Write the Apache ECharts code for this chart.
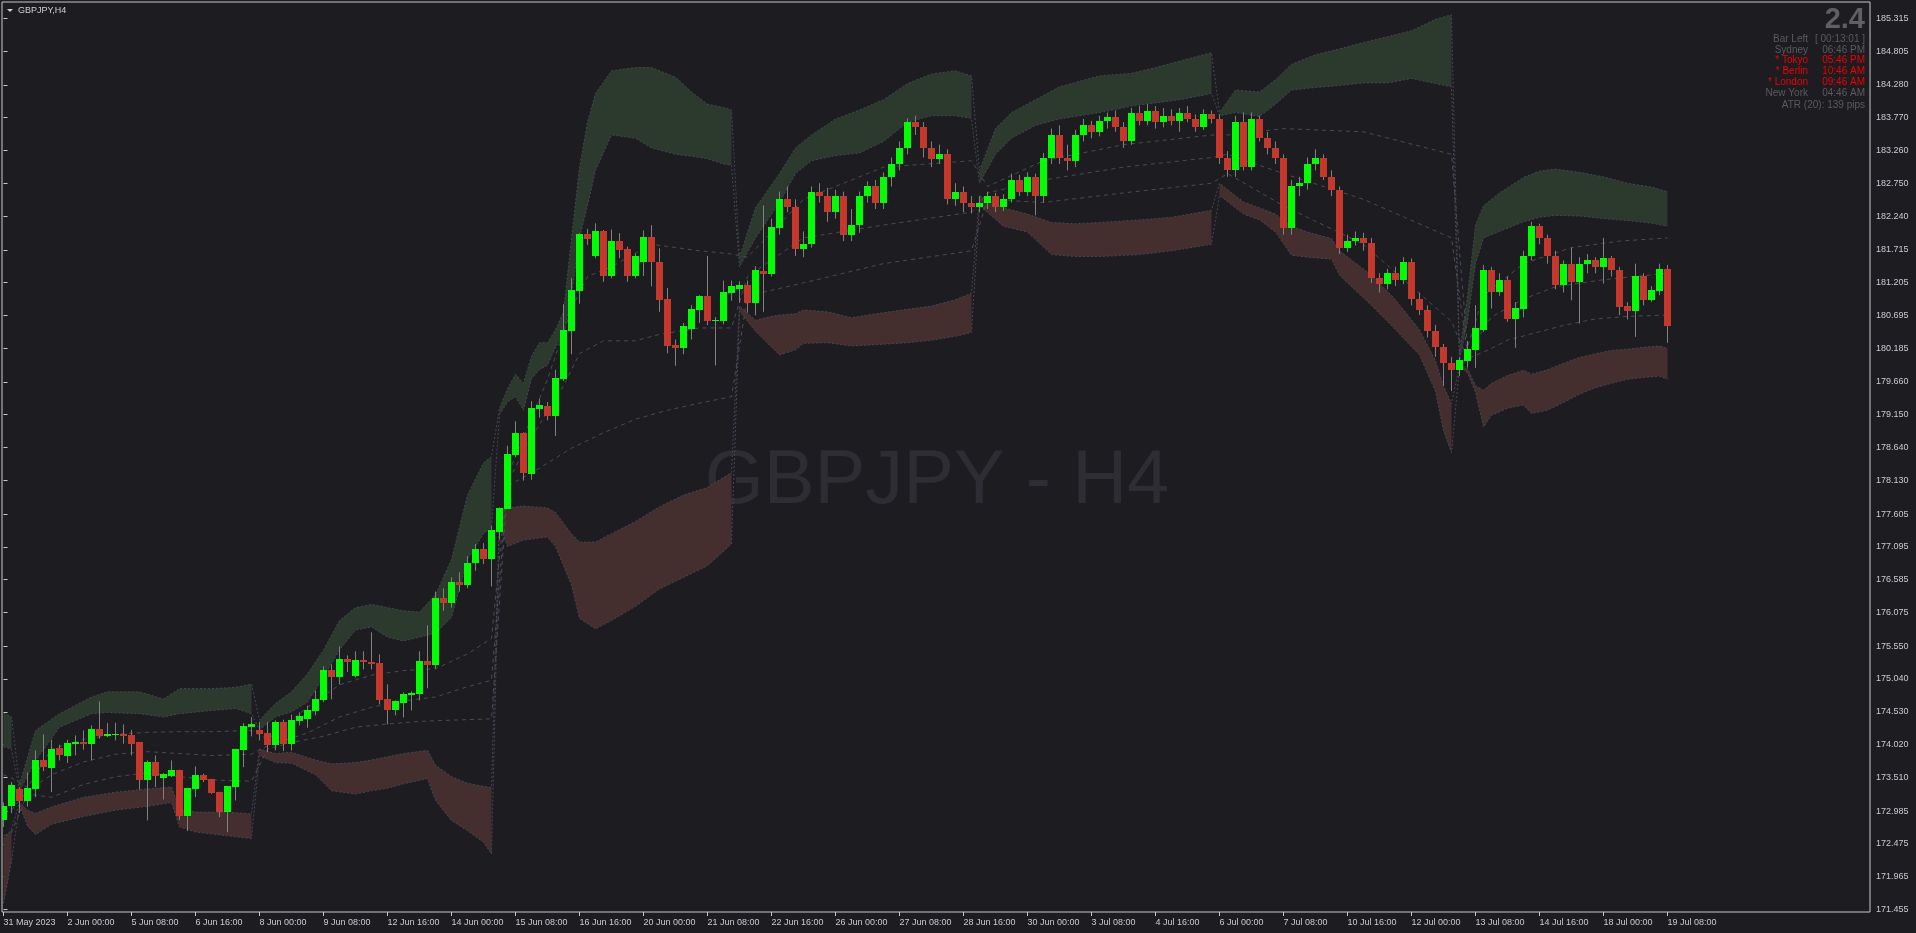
<!DOCTYPE html>
<html>
<head>
<meta charset="utf-8">
<title>GBPJPY,H4</title>
<script src="https://cdn.jsdelivr.net/npm/echarts@6/dist/echarts.min.js"></script>
<style>
html, body { margin: 0; padding: 0; background: #1c1c21; }
#chart { width: 1916px; height: 933px; }
</style>
</head>
<body>
<div id="chart"></div>
<script>
// time labels, one every 8 H4 bars (bar 0 = 31 May 16:00)
const timeLabels = ['31 May 2023', '2 Jun 00:00', '5 Jun 08:00', '6 Jun 16:00', '8 Jun 00:00', '9 Jun 08:00',
  '12 Jun 16:00', '14 Jun 00:00', '15 Jun 08:00', '16 Jun 16:00', '20 Jun 00:00', '21 Jun 08:00', '22 Jun 16:00',
  '26 Jun 00:00', '27 Jun 08:00', '28 Jun 16:00', '30 Jun 00:00', '3 Jul 08:00', '4 Jul 16:00', '6 Jul 00:00',
  '7 Jul 08:00', '10 Jul 16:00', '12 Jul 00:00', '13 Jul 08:00', '14 Jul 16:00', '18 Jul 00:00', '19 Jul 08:00']
const labelBars = timeLabels.map((t, k) => k * 8)

// price scale labels
const yTicks = [185.315, 184.805, 184.280, 183.770, 183.260, 182.750, 182.240, 181.715, 181.205, 180.695,
  180.185, 179.660, 179.150, 178.640, 178.130, 177.605, 177.095, 176.585, 176.075, 175.550, 175.040,
  174.530, 174.020, 173.510, 172.985, 172.475, 171.965, 171.455]

// candles: [open, close, low, high]
const candles = [
  [172.84, 173.07, 172.74, 173.12], [173.057, 173.384, 172.954, 173.436], [173.322, 173.14, 172.954, 173.358],
  [173.14, 173.343, 173.057, 173.586], [173.327, 173.773, 173.203, 173.929], [173.773, 173.669, 173.607, 174.178],
  [173.654, 173.944, 173.28, 174.095], [173.96, 173.856, 173.773, 174.017], [173.84, 174.038, 173.732, 174.095],
  [174.027, 174.058, 173.851, 174.162], [174.058, 174.027, 173.94, 174.24], [174.027, 174.256, 173.773, 174.318],
  [174.256, 174.152, 174.11, 174.691], [174.152, 174.178, 174.136, 174.354], [174.162, 174.178, 174.084, 174.359],
  [174.178, 174.152, 174.033, 174.333], [174.162, 174.022, 173.851, 174.25], [174.053, 173.462, 173.317, 174.053],
  [173.462, 173.742, 172.84, 173.773], [173.742, 173.524, 173.358, 173.851], [173.493, 173.56, 173.166, 173.576],
  [173.524, 173.618, 173.514, 173.773], [173.618, 172.902, 172.85, 173.628], [172.902, 173.337, 172.674, 173.348],
  [173.322, 173.55, 173.203, 173.68], [173.55, 173.462, 173.436, 173.566], [173.478, 173.265, 173.254, 173.488],
  [173.275, 172.979, 172.891, 173.286], [172.979, 173.369, 172.658, 173.379], [173.353, 173.944, 173.15, 173.954],
  [173.929, 174.302, 173.669, 174.354], [174.287, 174.333, 174.147, 174.447], [174.24, 174.178, 174.084, 174.37],
  [174.193, 174.007, 173.903, 174.37], [174.007, 174.364, 173.929, 174.396], [174.365, 174.028, 173.919, 174.406],
  [174.028, 174.396, 173.929, 174.484], [174.38, 174.468, 174.318, 174.52], [174.411, 174.551, 174.282, 174.624],
  [174.536, 174.723, 174.474, 174.863], [174.707, 175.174, 174.681, 175.236], [175.174, 175.065, 174.723, 175.267],
  [175.065, 175.345, 174.956, 175.547], [175.345, 175.298, 175.148, 175.407], [175.081, 175.33, 175.06, 175.47],
  [175.33, 175.298, 175.19, 175.47], [175.298, 175.267, 175.19, 175.765], [175.283, 174.707, 174.645, 175.423],
  [174.723, 174.551, 174.334, 174.956], [174.551, 174.691, 174.474, 174.707], [174.66, 174.8, 174.442, 174.832],
  [174.785, 174.816, 174.551, 174.847], [174.8, 175.314, 174.707, 175.47], [175.314, 175.252, 174.894, 175.874],
  [175.25, 176.30, 175.20, 176.40], [176.30, 176.22, 176.10, 176.45], [176.22, 176.55, 176.15, 176.62],
  [176.55, 176.50, 176.40, 176.70], [176.50, 176.85, 176.45, 176.95],
  [176.847, 177.055, 176.722, 177.139], [177.055, 176.91, 176.826, 177.153], [176.91, 177.361, 176.479, 177.417],
  [177.326, 177.695, 177.208, 177.708], [177.681, 178.535, 177.681, 178.667], [178.521, 178.862, 178.493, 179.049],
  [178.862, 178.237, 178.125, 178.876], [178.223, 179.251, 178.139, 179.362], [179.244, 179.3, 179.105, 179.397],
  [179.285, 179.133, 179.063, 179.348], [179.133, 179.716, 178.82, 179.848], [179.702, 180.466, 179.675, 180.869],
  [180.453, 181.085, 180.091, 181.272], [181.071, 181.96, 180.876, 181.974], [181.96, 181.884, 181.793, 182.043],
  [181.62, 182.009, 181.585, 182.127], [182.009, 181.3, 181.217, 182.023], [181.3, 181.849, 181.272, 182.03],
  [181.849, 181.717, 181.585, 181.974], [181.724, 181.3, 181.217, 181.766], [181.3, 181.62, 181.272, 181.654],
  [181.522, 181.911, 181.307, 182.016], [181.911, 181.522, 181.147, 182.099], [181.522, 180.939, 180.751, 181.738],
  [180.946, 180.216, 180.105, 181.12], [180.23, 180.189, 179.911, 180.32], [180.189, 180.529, 180.091, 180.578],
  [180.48, 180.793, 180.32, 180.855], [180.786, 180.994, 180.578, 181.008], [180.994, 180.612, 180.543, 181.62],
  [180.612, 180.626, 179.918, 180.668], [180.612, 181.057, 180.557, 181.237], [181.05, 181.147, 180.925, 181.237],
  [181.106, 181.168, 180.89, 181.224], [181.168, 180.89, 180.737, 181.237], [180.89, 181.397, 180.696, 181.46],
  [181.39, 181.342, 180.751, 182.405],
  [181.34, 182.07, 181.30, 182.20], [182.05, 182.50, 181.95, 182.62], [182.50, 182.38, 182.30, 182.70],
  [182.38, 181.72, 181.62, 182.50], [181.72, 181.80, 181.60, 182.00], [181.80, 182.62, 181.75, 182.70],
  [182.62, 182.55, 182.45, 182.75], [182.55, 182.30, 182.15, 182.68], [182.30, 182.55, 182.20, 182.65],
  [182.55, 181.95, 181.85, 182.62], [181.95, 182.10, 181.85, 182.35], [182.10, 182.55, 181.98, 182.62],
  [182.55, 182.70, 182.45, 182.78], [182.70, 182.45, 182.35, 182.80], [182.45, 182.85, 182.35, 182.92],
  [182.85, 183.05, 182.70, 183.15], [183.05, 183.30, 182.95, 183.40], [183.30, 183.70, 183.20, 183.76],
  [183.70, 183.62, 183.50, 183.80], [183.62, 183.30, 183.15, 183.70], [183.30, 183.12, 183.00, 183.40],
  [183.12, 183.20, 183.05, 183.35], [183.20, 182.50, 182.42, 183.28], [182.50, 182.62, 182.40, 182.75],
  [182.62, 182.45, 182.30, 182.70], [182.45, 182.38, 182.28, 182.55],
  [182.38, 182.45, 182.30, 182.55], [182.45, 182.55, 182.35, 182.62], [182.55, 182.38, 182.30, 182.60],
  [182.38, 182.50, 182.32, 182.58], [182.50, 182.80, 182.45, 182.90], [182.80, 182.62, 182.55, 182.88],
  [182.62, 182.85, 182.55, 182.92], [182.85, 182.55, 182.25, 182.90], [182.55, 183.15, 182.45, 183.22],
  [183.15, 183.50, 183.05, 183.60], [183.50, 183.15, 183.05, 183.65], [183.15, 183.10, 182.95, 183.35],
  [183.10, 183.50, 183.00, 183.58], [183.50, 183.65, 183.40, 183.75], [183.65, 183.55, 183.45, 183.72],
  [183.55, 183.72, 183.48, 183.80], [183.72, 183.78, 183.60, 183.85], [183.78, 183.62, 183.55, 183.88],
  [183.62, 183.40, 183.30, 183.70], [183.40, 183.85, 183.35, 183.92], [183.85, 183.72, 183.65, 183.95],
  [183.72, 183.88, 183.65, 183.98], [183.88, 183.70, 183.60, 183.95], [183.70, 183.80, 183.62, 183.92],
  [183.80, 183.72, 183.65, 183.90], [183.72, 183.85, 183.55, 183.92], [183.85, 183.75, 183.70, 183.95],
  [183.75, 183.62, 183.55, 183.82], [183.62, 183.82, 183.58, 183.90], [183.82, 183.75, 183.68, 183.88],
  [183.75, 183.15, 183.05, 183.82], [183.15, 182.95, 182.85, 183.25], [182.95, 183.70, 182.85, 183.80],
  [183.70, 183.00, 182.95, 183.85], [183.00, 183.75, 182.95, 183.85], [183.75, 183.45, 183.40, 183.80],
  [183.45, 183.30, 183.20, 183.55], [183.30, 183.15, 183.05, 183.40], [183.15, 182.05, 181.95, 183.20],
  [182.05, 182.70, 181.95, 182.80], [182.70, 182.75, 182.55, 182.85], [182.75, 183.05, 182.65, 183.15],
  [183.05, 183.15, 182.95, 183.28], [183.15, 182.85, 182.80, 183.20], [182.85, 182.65, 182.55, 182.95],
  [182.65, 181.75, 181.65, 182.70], [181.75, 181.85, 181.68, 181.95], [181.85, 181.90, 181.78, 182.00],
  [181.90, 181.82, 181.70, 181.98], [181.82, 181.28, 181.20, 181.90], [181.28, 181.18, 181.05, 181.35],
  [181.18, 181.35, 181.10, 181.42], [181.35, 181.25, 181.15, 181.45], [181.25, 181.52, 181.18, 181.60],
  [181.52, 180.95, 180.85, 181.58], [180.95, 180.78, 180.70, 181.05], [180.78, 180.45, 180.35, 180.85],
  [180.45, 180.20, 180.05, 180.55], [180.20, 179.95, 179.60, 180.25], [179.95, 179.85, 179.52, 180.05],
  [179.842, 179.998, 179.75, 180.05], [179.988, 180.17, 179.884, 180.294], [180.154, 180.496, 179.879, 180.854],
  [180.465, 181.40, 180.439, 181.48], [181.40, 181.061, 180.802, 181.45], [181.061, 181.25, 181.00, 181.35],
  [181.25, 180.636, 180.595, 181.30], [180.636, 180.807, 180.19, 180.90], [180.792, 181.62, 180.662, 181.70],
  [181.62, 182.08, 181.55, 182.15], [182.08, 181.90, 181.80, 182.12], [181.90, 181.62, 181.50, 181.95],
  [181.62, 181.17, 181.10, 181.70], [181.165, 181.50, 181.05, 181.55], [181.50, 181.22, 180.93, 181.75],
  [181.22, 181.50, 180.569, 181.60], [181.50, 181.55, 181.35, 181.65], [181.55, 181.45, 181.35, 181.60],
  [181.45, 181.58, 181.19, 181.90], [181.58, 181.40, 181.30, 181.62], [181.40, 180.828, 180.698, 181.45],
  [180.838, 180.766, 180.631, 180.90], [180.766, 181.30, 180.361, 181.50], [181.30, 180.932, 180.85, 181.35],
  [180.932, 181.087, 180.906, 181.15], [181.077, 181.42, 181.01, 181.50], [181.42, 180.534, 180.268, 181.48]
]

// bands restart on these bars
const resetBars = [2, 32, 62, 92, 122, 152, 182]

// upper (green) band: [bar, top, bottom]
const greenBand = [
  [0, 174.51, 173.99], [1, 174.45, 173.95],
  [2, 173.40, 173.30], [4, 174.24, 173.77], [7, 174.50, 174.29], [11, 174.76, 174.50], [13, 174.84, 174.52],
  [17, 174.84, 174.50], [20, 174.73, 174.45], [22, 174.89, 174.50], [26, 174.89, 174.55], [29, 174.91, 174.58],
  [31, 174.96, 174.50],
  [32, 174.40, 174.25], [34, 174.66, 174.45], [36, 174.84, 174.53], [38, 175.12, 174.68], [40, 175.49, 175.07],
  [42, 175.95, 175.49], [44, 176.15, 175.80], [46, 176.20, 175.85], [48, 176.15, 175.69], [50, 176.10, 175.63],
  [52, 176.08, 175.69], [54, 176.35, 175.75], [56, 176.90, 176.00], [58, 177.90, 176.90], [60, 178.40, 177.30],
  [61, 178.50, 177.40],
  [62, 179.25, 179.15], [63, 179.55, 179.35], [64, 179.78, 179.43], [65, 179.64, 179.22], [66, 180.06, 179.71],
  [67, 180.27, 179.85], [68, 180.27, 179.92], [69, 180.47, 180.20], [70, 180.75, 180.40], [71, 181.90, 181.00],
  [72, 183.00, 181.90], [73, 183.70, 182.40], [74, 184.15, 182.95], [76, 184.50, 183.50], [79, 184.55, 183.45],
  [81, 184.55, 183.30], [84, 184.40, 183.20], [86, 184.17, 183.17], [88, 183.98, 183.13], [90, 183.93, 183.05],
  [91, 183.89, 183.03],
  [92, 181.60, 181.45], [94, 182.37, 181.90], [97, 182.90, 182.45], [99, 183.30, 182.90], [101, 183.50, 183.10],
  [104, 183.75, 183.18], [107, 183.89, 183.22], [110, 184.05, 183.40], [113, 184.30, 183.70], [116, 184.45, 183.80],
  [119, 184.50, 183.80], [121, 184.42, 183.76],
  [122, 182.95, 182.75], [124, 183.60, 183.20], [126, 183.85, 183.45], [129, 184.05, 183.65], [132, 184.25, 183.75],
  [137, 184.42, 183.85], [141, 184.46, 183.95], [144, 184.55, 184.00], [147, 184.65, 184.05], [150, 184.75, 184.12],
  [151, 184.78, 184.15],
  [152, 183.85, 183.80], [154, 184.20, 183.85], [157, 184.17, 183.79], [159, 184.36, 183.98], [161, 184.60, 184.20],
  [164, 184.75, 184.24], [167, 184.84, 184.27], [170, 184.94, 184.31], [173, 185.03, 184.31], [176, 185.12, 184.38],
  [179, 185.30, 184.30], [181, 185.37, 184.25],
  [182, 180.10, 180.00], [183, 181.00, 180.60], [184, 182.10, 181.50], [185, 182.40, 181.90], [187, 182.60, 182.00],
  [190, 182.84, 182.15], [192, 182.94, 182.22], [194, 182.97, 182.25], [197, 182.92, 182.24], [200, 182.85, 182.20],
  [203, 182.75, 182.17], [206, 182.69, 182.13], [208, 182.62, 182.08]
]

// lower (red) band: [bar, top, bottom]
const redBand = [
  [0, 172.55, 171.55], [1, 172.70, 172.20],
  [2, 173.12, 173.08], [3, 173.00, 172.75], [4, 172.95, 172.62], [6, 173.05, 172.78], [10, 173.20, 172.90],
  [14, 173.28, 173.00], [18, 173.33, 173.06], [21, 173.36, 173.12], [22, 173.02, 172.74], [24, 172.97, 172.66],
  [28, 172.97, 172.60], [31, 172.94, 172.56],
  [32, 173.95, 173.85], [34, 173.88, 173.74], [36, 173.90, 173.73], [39, 173.78, 173.55], [41, 173.72, 173.30],
  [44, 173.74, 173.25], [46, 173.78, 173.30], [48, 173.83, 173.34], [50, 173.88, 173.41], [53, 173.93, 173.49],
  [54, 173.70, 173.15], [56, 173.52, 172.84], [58, 173.42, 172.68], [60, 173.37, 172.50], [61, 173.35, 172.32],
  [62, 177.65, 177.45], [63, 177.70, 177.10], [65, 177.73, 177.20], [68, 177.70, 177.25], [69, 177.63, 177.10],
  [71, 177.30, 176.50], [72, 177.17, 175.98], [74, 177.17, 175.82], [76, 177.30, 175.95], [79, 177.49, 176.17],
  [82, 177.72, 176.44], [85, 177.90, 176.62], [88, 178.02, 176.80], [91, 178.25, 177.14],
  [92, 180.84, 180.76], [94, 180.62, 180.45], [96, 180.68, 180.20], [97, 180.70, 180.08], [99, 180.72, 180.16],
  [100, 180.78, 180.26], [103, 180.75, 180.27], [106, 180.66, 180.22], [109, 180.72, 180.24], [113, 180.79, 180.27],
  [116, 180.84, 180.31], [119, 180.94, 180.37], [121, 181.04, 180.43],
  [122, 182.56, 182.40], [125, 182.37, 182.08], [128, 182.27, 181.99], [131, 182.14, 181.64], [134, 182.12, 181.61],
  [137, 182.14, 181.61], [142, 182.18, 181.64], [146, 182.22, 181.70], [151, 182.33, 181.80],
  [152, 182.75, 182.56], [155, 182.46, 182.27], [157, 182.37, 182.18], [159, 182.27, 181.99], [161, 182.08, 181.63],
  [163, 181.99, 181.60], [166, 181.89, 181.57], [167, 181.70, 181.32], [171, 181.32, 180.85], [174, 180.94, 180.47],
  [177, 180.47, 180.08], [179, 179.99, 179.51], [180, 179.60, 178.90], [181, 179.32, 178.56],
  [182, 179.92, 179.90], [183, 179.87, 179.80], [184, 179.60, 179.50], [185, 179.53, 178.96], [186, 179.64, 179.14],
  [188, 179.76, 179.25], [190, 179.84, 179.30], [191, 179.78, 179.17], [193, 179.85, 179.22], [195, 179.95, 179.34],
  [197, 180.04, 179.47], [199, 180.10, 179.57], [201, 180.15, 179.64], [203, 180.17, 179.70], [205, 180.20, 179.73],
  [207, 180.22, 179.75], [208, 180.18, 179.70]
]

// dashed inner lines: [bar, price]
const dashUpper = [[0, 173.55], [1, 173.50], [3, 173.35], [6, 173.95], [10, 174.10], [14, 174.18], [18, 174.21],
  [22, 174.22], [26, 174.22], [31, 174.24], [33, 174.10], [38, 174.60], [42, 174.95], [46, 175.10], [50, 175.17],
  [54, 175.20], [58, 175.43], [61, 175.67], [63, 178.20], [68, 179.70], [71, 180.80], [73, 181.30], [76, 181.45],
  [81, 181.80], [87, 181.70], [91, 181.65], [93, 181.60], [100, 182.50], [110, 183.00], [121, 183.10], [123, 182.70],
  [130, 183.10], [140, 183.35], [151, 183.50], [153, 183.50], [160, 183.60], [170, 183.55], [181, 183.20],
  [183, 180.20], [185, 181.00], [190, 181.50], [196, 181.75], [202, 181.85], [208, 181.90]]
const dashMid = [[0, 173.00], [1, 173.00], [3, 173.30], [6, 173.55], [10, 173.75], [14, 173.87], [18, 173.91],
  [22, 173.88], [26, 173.85], [31, 173.87], [33, 174.00], [38, 174.20], [42, 174.45], [46, 174.60], [50, 174.70],
  [54, 174.76], [58, 174.92], [61, 175.02], [63, 178.10], [66, 178.80], [70, 179.60], [72, 180.10], [75, 180.30],
  [79, 180.30], [82, 180.40], [87, 180.50], [91, 180.50], [93, 181.30], [100, 181.90], [110, 182.10], [121, 182.30],
  [123, 182.60], [130, 182.80], [140, 183.00], [151, 183.15], [153, 183.20], [160, 182.90], [170, 182.50],
  [181, 181.90], [183, 180.10], [186, 180.67], [190, 180.95], [194, 181.14], [200, 181.25], [208, 181.35]]
const dashLower = [[0, 172.60], [1, 172.65], [3, 173.25], [6, 173.20], [10, 173.40], [14, 173.52], [18, 173.58],
  [22, 173.52], [26, 173.47], [31, 173.45], [33, 173.95], [36, 174.05], [40, 174.15], [44, 174.29], [48, 174.34],
  [52, 174.38], [56, 174.40], [61, 174.42], [63, 178.04], [67, 178.32], [71, 178.63], [75, 178.87], [79, 179.08],
  [83, 179.22], [87, 179.33], [91, 179.43], [93, 181.00], [100, 181.20], [110, 181.50], [121, 181.70], [123, 182.50],
  [130, 182.45], [140, 182.60], [151, 182.75], [153, 182.90], [160, 182.40], [170, 181.80], [181, 180.60],
  [183, 180.02], [186, 180.18], [188, 180.31], [192, 180.44], [195, 180.54], [199, 180.64], [203, 180.68],
  [208, 180.70]]

// clock panel, top right
const infoRows = [
  ['Bar Left', '[ 00:13:01 ]', false], ['Sydney', '06:46 PM', false], ['* Tokyo', '05:46 PM', true],
  ['* Berlin', '10:46 AM', true], ['* London', '09:46 AM', true], ['New York', '04:46 AM', false]
]

const FONT = '"Liberation Sans", Arial, sans-serif'
const AXIS_TEXT = '#c9ccd1'
const lastClose = candles[candles.length - 1][1]

const chart = echarts.init(document.getElementById('chart'))

// split band rows into the weekly pieces
function splitSegments(rows) {
  const segs = []
  rows.forEach(r => {
    const k = resetBars.filter(b => b <= r[0]).length
    ;(segs[k] = segs[k] || []).push(r)
  })
  return segs.filter(Boolean)
}

function bandSeries(rows, fill) {
  const segs = splitSegments(rows)
  return {
    type: 'custom',
    z: 1,
    clip: true,
    silent: true,
    data: segs.map(s => [s[0][0], s[0][1]]),
    encode: { x: 0, y: 1 },
    renderItem: (params, api) => {
      const seg = segs[params.dataIndex]
      const pts = seg.map(r => api.coord([r[0], r[1]]))
        .concat(seg.slice().reverse().map(r => api.coord([r[0], r[2]])))
      return { type: 'polygon', shape: { points: pts }, style: { fill: fill } }
    }
  }
}

function lineSeries(data, color, dash, extra) {
  return Object.assign({
    type: 'line',
    data: data,
    symbol: 'none',
    silent: true,
    z: 2,
    lineStyle: { color: color, width: 1, type: dash }
  }, extra || {})
}

function renderCandle(params, api) {
  const i = api.value(0)
  const o = api.value(1), c = api.value(2), l = api.value(3), h = api.value(4)
  const pO = api.coord([i, o]), pC = api.coord([i, c])
  const yL = api.coord([i, l])[1], yH = api.coord([i, h])[1]
  const left = Math.round(pO[0] - 3.5)
  const top = Math.round(Math.min(pO[1], pC[1]))
  const bot = Math.round(Math.max(pO[1], pC[1]))
  return {
    type: 'group',
    children: [
      { type: 'line', shape: { x1: left + 3.5, y1: yH, x2: left + 3.5, y2: yL }, style: { stroke: '#808080', lineWidth: 1 } },
      { type: 'rect', shape: { x: left, y: top, width: 7, height: Math.max(bot - top, 1) },
        style: { fill: c >= o ? '#00ff00' : '#c4392c' } }
    ]
  }
}

function txt(text, x, y, fill, font, align) {
  return {
    type: 'text', z: 0, silent: true,
    style: { text: text, x: x, y: y, fill: fill, font: font, align: align, textAlign: align,
      verticalAlign: 'middle', textVerticalAlign: 'middle' }
  }
}

const graphics = [
  txt('GBPJPY - H4', 937, 482, '#2d2d33', '76px ' + FONT, 'center'),
  { type: 'polygon', silent: true, shape: { points: [[7, 9], [13, 9], [10, 12]] }, style: { fill: '#d0d0d0' } },
  txt('GBPJPY,H4', 18, 11, '#d0d0d0', '9px ' + FONT, 'left'),
  txt('2.4', 1865, 20, '#5f5f64', 'bold 29px ' + FONT, 'right'),
  txt('ATR (20): 139 pips', 1865, 105, '#5a5a5f', '10px ' + FONT, 'right')
]
infoRows.forEach((r, k) => {
  const y = 39 + k * 10.8
  const color = r[2] ? '#f00000' : '#5a5a5f'
  graphics.push(txt(r[0], 1808, y, color, '10px ' + FONT, 'right'))
  graphics.push(txt(r[1], 1865, y, color, '10px ' + FONT, 'right'))
})

const edge = '#464755'

const option = {
  backgroundColor: '#1c1c21',
  animation: false,
  grid: { left: 2, right: 46, top: 2, bottom: 21, show: true, borderColor: '#c8c8c8', borderWidth: 1 },
  xAxis: {
    type: 'value',
    min: -0.1875,
    max: 233.3125,
    splitLine: { show: false },
    axisLine: { show: false },
    axisTick: { show: true, customValues: labelBars, length: 4, lineStyle: { color: '#c8c8c8' } },
    axisLabel: {
      customValues: labelBars,
      formatter: v => timeLabels[Math.round(v / 8)],
      align: 'left',
      margin: 6,
      color: AXIS_TEXT,
      fontSize: 9,
      fontFamily: FONT
    }
  },
  yAxis: {
    type: 'value',
    position: 'right',
    min: 171.416,
    max: 185.569,
    splitLine: { show: false },
    axisLine: { show: false },
    axisTick: { show: true, customValues: yTicks, length: 4, lineStyle: { color: '#c8c8c8' } },
    axisLabel: {
      customValues: yTicks,
      formatter: v => v.toFixed(3),
      margin: 6,
      color: AXIS_TEXT,
      fontSize: 9,
      fontFamily: FONT
    }
  },
  graphic: graphics,
  series: [
    bandSeries(greenBand, '#2b3a2d'),
    bandSeries(redBand, '#452f2e'),
    lineSeries(greenBand.map(r => [r[0], r[1]]), edge, [2, 2]),
    lineSeries(greenBand.map(r => [r[0], r[2]]), edge, [2, 2]),
    lineSeries(redBand.map(r => [r[0], r[1]]), edge, [2, 2]),
    lineSeries(redBand.map(r => [r[0], r[2]]), edge, [2, 2]),
    lineSeries(dashUpper, '#4b4b54', [4, 4]),
    lineSeries(dashLower, '#4b4b54', [4, 4]),
    lineSeries(dashMid, '#4b4b54', [4, 4], {
      markLine: {
        silent: true,
        symbol: 'none',
        lineStyle: { opacity: 0 },
        data: [{ yAxis: lastClose }],
        label: {
          position: 'end',
          distance: 2,
          formatter: () => lastClose.toFixed(3),
          backgroundColor: '#c8c8c8',
          color: '#1c1c21',
          fontSize: 9,
          fontFamily: FONT,
          lineHeight: 10,
          padding: [0, 5, 0, 4]
        }
      }
    }),
    {
      type: 'custom',
      z: 3,
      clip: true,
      silent: true,
      data: candles.map((d, i) => [i, d[0], d[1], d[2], d[3]]),
      encode: { x: 0, y: [1, 2, 3, 4] },
      renderItem: renderCandle
    }
  ]
}

chart.setOption(option)
</script>
</body>
</html>
